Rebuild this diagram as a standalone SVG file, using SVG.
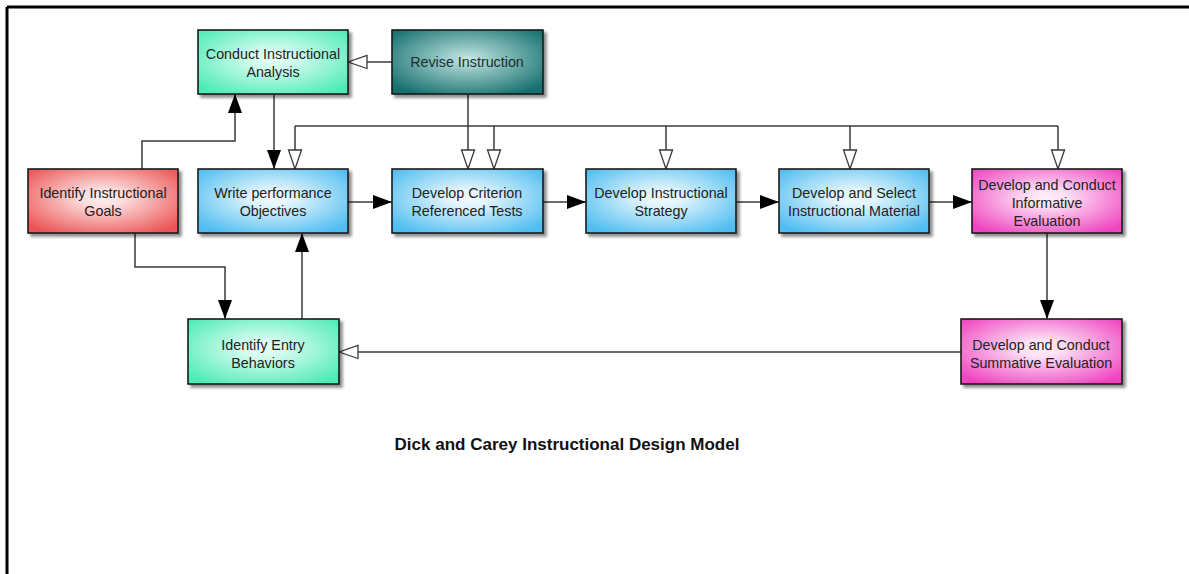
<svg xmlns="http://www.w3.org/2000/svg" width="1189" height="574" viewBox="0 0 1189 574">
  <defs>
    <style>
      .box { stroke: #1a1a1a; stroke-width: 1.6; filter: url(#shadow); }
      .lbl { font-family: "Liberation Sans", Arial, Helvetica, sans-serif; font-size: 14.3px; fill: #222; text-anchor: middle; }
      .title { font-family: "Liberation Sans", Arial, Helvetica, sans-serif; font-size: 17px; font-weight: bold; fill: #111; text-anchor: middle; }
      .wire { fill: none; stroke: #3a3a3a; stroke-width: 1.5; }
      .solid { marker-end: url(#headFilled); }
      .hollow { marker-end: url(#headOpen); }
    </style>
    <filter id="shadow" x="-10%" y="-10%" width="125%" height="130%">
      <feDropShadow dx="3" dy="3" stdDeviation="1.5" flood-color="#000" flood-opacity="0.45"/>
    </filter>
    <radialGradient id="gBlue" cx="50%" cy="45%" r="65%">
      <stop offset="0" stop-color="#eef9fe"/>
      <stop offset="0.2" stop-color="#e2f5fd"/>
      <stop offset="1" stop-color="#4fbdf0"/>
    </radialGradient>
    <radialGradient id="gGreen" cx="50%" cy="45%" r="65%">
      <stop offset="0" stop-color="#e8fff7"/>
      <stop offset="0.2" stop-color="#d6fdef"/>
      <stop offset="1" stop-color="#4febb6"/>
    </radialGradient>
    <radialGradient id="gRed" cx="50%" cy="45%" r="65%">
      <stop offset="0" stop-color="#ffeeee"/>
      <stop offset="0.2" stop-color="#fde0e0"/>
      <stop offset="1" stop-color="#ec5555"/>
    </radialGradient>
    <radialGradient id="gTeal" cx="50%" cy="45%" r="65%">
      <stop offset="0" stop-color="#c4e8e4"/>
      <stop offset="1" stop-color="#156f6e"/>
    </radialGradient>
    <radialGradient id="gPink" cx="50%" cy="45%" r="65%">
      <stop offset="0" stop-color="#fff0fb"/>
      <stop offset="0.2" stop-color="#fde0f5"/>
      <stop offset="1" stop-color="#ef45c0"/>
    </radialGradient>
    <marker id="headFilled" markerUnits="userSpaceOnUse" viewBox="0 0 19 14" markerWidth="19" markerHeight="14" refX="19" refY="7" orient="auto">
      <path d="M0,0 L19,7 L0,14 z" fill="#000"/>
    </marker>
    <marker id="headOpen" markerUnits="userSpaceOnUse" viewBox="0 0 22 16" markerWidth="22" markerHeight="16" refX="20.5" refY="8" orient="auto">
      <path d="M1.5,1.5 L20.5,8 L1.5,14.5 z" fill="#fff" stroke="#3a3a3a" stroke-width="1.3"/>
    </marker>
  </defs>

  <rect width="1189" height="574" fill="#fff"/>
  <!-- frame edges -->
  <line x1="7" y1="7" x2="1189" y2="7" stroke="#000" stroke-width="3"/>
  <line x1="7" y1="7" x2="7" y2="574" stroke="#000" stroke-width="3"/>

  <g id="connectors">
    <!-- goals to analysis -->
    <path class="wire solid" d="M142,169 V141 H235 V94"/>
    <!-- analysis to objectives -->
    <path class="wire solid" d="M274,94 V169"/>
    <!-- revise to analysis -->
    <path class="wire hollow" d="M392,62 H348"/>
    <!-- revise to tests -->
    <path class="wire hollow" d="M468,94 V169"/>
    <!-- revision bus across the main row -->
    <path class="wire" d="M295,126 H1058"/>
    <path class="wire hollow" d="M295,126 V169"/>
    <path class="wire hollow" d="M494,126 V169"/>
    <path class="wire hollow" d="M666,126 V169"/>
    <path class="wire hollow" d="M850,126 V169"/>
    <path class="wire hollow" d="M1058,126 V169"/>
    <!-- main sequence -->
    <path class="wire solid" d="M348,202 H392"/>
    <path class="wire solid" d="M543,202 H586"/>
    <path class="wire solid" d="M736,202 H779"/>
    <path class="wire solid" d="M929,202 H972"/>
    <!-- formative to summative -->
    <path class="wire solid" d="M1047,233 V319"/>
    <!-- goals to entry behaviors -->
    <path class="wire solid" d="M135,233 V267 H225 V319"/>
    <!-- entry behaviors to objectives -->
    <path class="wire solid" d="M302,319 V233"/>
    <!-- summative back to entry behaviors -->
    <path class="wire hollow" d="M961,352 H339"/>
  </g>

  <g id="analysis">
    <rect class="box" x="198" y="30" width="150" height="64" fill="url(#gGreen)"/>
    <text class="lbl" x="273" y="59">Conduct Instructional</text>
    <text class="lbl" x="273" y="77">Analysis</text>
  </g>
  <g id="revise">
    <rect class="box" x="392" y="30" width="151" height="64" fill="url(#gTeal)"/>
    <text class="lbl" x="467" y="67" style="fill:#1b2f2f">Revise Instruction</text>
  </g>
  <g id="goals">
    <rect class="box" x="28" y="169" width="150" height="64" fill="url(#gRed)"/>
    <text class="lbl" x="103" y="198">Identify Instructional</text>
    <text class="lbl" x="103" y="216">Goals</text>
  </g>
  <g id="objectives">
    <rect class="box" x="198" y="169" width="150" height="64" fill="url(#gBlue)"/>
    <text class="lbl" x="273" y="198">Write performance</text>
    <text class="lbl" x="273" y="216">Objectives</text>
  </g>
  <g id="tests">
    <rect class="box" x="392" y="169" width="151" height="64" fill="url(#gBlue)"/>
    <text class="lbl" x="467" y="198">Develop Criterion</text>
    <text class="lbl" x="467" y="216">Referenced Tests</text>
  </g>
  <g id="strategy">
    <rect class="box" x="586" y="169" width="150" height="64" fill="url(#gBlue)"/>
    <text class="lbl" x="661" y="198">Develop Instructional</text>
    <text class="lbl" x="661" y="216">Strategy</text>
  </g>
  <g id="material">
    <rect class="box" x="779" y="169" width="150" height="64" fill="url(#gBlue)"/>
    <text class="lbl" x="854" y="198">Develop and Select</text>
    <text class="lbl" x="854" y="216">Instructional Material</text>
  </g>
  <g id="formative">
    <rect class="box" x="972" y="169" width="150" height="64" fill="url(#gPink)"/>
    <text class="lbl" x="1047" y="190">Develop and Conduct</text>
    <text class="lbl" x="1047" y="208">Informative</text>
    <text class="lbl" x="1047" y="226">Evaluation</text>
  </g>
  <g id="entry">
    <rect class="box" x="188" y="319" width="151" height="65" fill="url(#gGreen)"/>
    <text class="lbl" x="263" y="350">Identify Entry</text>
    <text class="lbl" x="263" y="368">Behaviors</text>
  </g>
  <g id="summative">
    <rect class="box" x="961" y="319" width="161" height="65" fill="url(#gPink)"/>
    <text class="lbl" x="1041" y="350">Develop and Conduct</text>
    <text class="lbl" x="1041" y="368">Summative Evaluation</text>
  </g>

  <text class="title" x="567" y="450">Dick and Carey Instructional Design Model</text>
</svg>
